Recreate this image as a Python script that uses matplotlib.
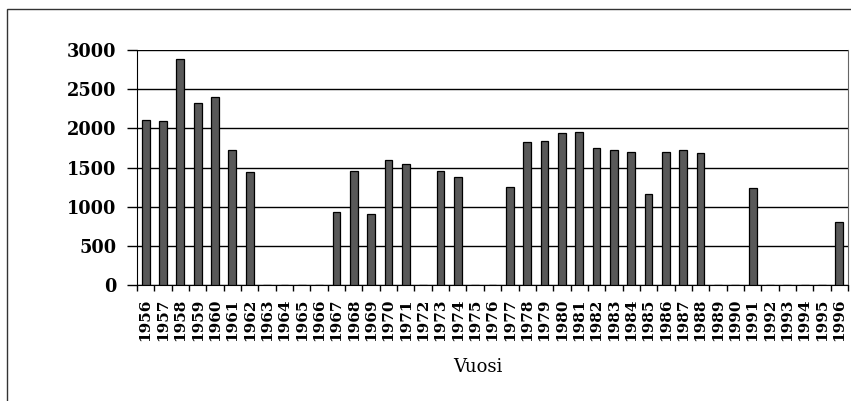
import matplotlib
matplotlib.use("Agg")
import matplotlib.pyplot as plt
from matplotlib.patches import Rectangle
import numpy as np

years = [str(y) for y in range(1956, 1997)]
values = {
    "1956": 2110, "1957": 2100, "1958": 2890, "1959": 2320, "1960": 2400,
    "1961": 1720, "1962": 1445, "1967": 930, "1968": 1450, "1969": 910,
    "1970": 1590, "1971": 1550, "1973": 1450, "1974": 1375, "1977": 1255,
    "1978": 1820, "1979": 1840, "1980": 1940, "1981": 1955, "1982": 1745,
    "1983": 1720, "1984": 1700, "1985": 1165, "1986": 1700, "1987": 1720,
    "1988": 1685, "1991": 1235, "1996": 800,
}
y_ticks = [0, 500, 1000, 1500, 2000, 2500, 3000]
x_label = "Vuosi"

W, H = 851, 401
fig = plt.figure(figsize=(W / 100, H / 100), dpi=100)

# outer frame
fig.patches.append(Rectangle((7 / W, -0.1), 1.2, (H - 9) / H + 0.1,
                             transform=fig.transFigure, fill=False,
                             edgecolor="#333333", linewidth=1.0))

ax = fig.add_axes([137 / W, 1 - 285 / H, (848 - 137) / W, (285 - 50) / H])
x = np.arange(len(years))
heights = [values.get(y, 0) for y in years]
ax.bar(x, heights, width=0.45, color="#595959", edgecolor="black",
       linewidth=0.9, zorder=3)

ax.set_xlim(-0.5, len(years) - 0.5)
ax.set_ylim(0, 3000)
ax.set_yticks(y_ticks)
ax.set_yticklabels([str(v) for v in y_ticks], family="DejaVu Serif",
                   fontweight="bold", fontsize=12.8)
ax.set_xticks(x)
ax.set_xticklabels(years, rotation=90, family="DejaVu Serif",
                   fontweight="bold", fontsize=11)
ax.set_xticks(np.arange(-0.5, len(years), 1), minor=True)
ax.tick_params(axis="x", which="major", length=0, pad=10)
ax.tick_params(axis="x", which="minor", length=4, width=1, direction="out",
               color="black")
ax.tick_params(axis="y", length=7, width=1, direction="out", pad=8,
               color="black")

for v in y_ticks:
    ax.axhline(v, color="black", linewidth=1.0, zorder=1)

for s in ["top"]:
    ax.spines[s].set_visible(False)
ax.spines["right"].set_color("#666666")
ax.spines["left"].set_color("black")
ax.spines["bottom"].set_color("black")

fig.text(478 / W, 1 - 367 / H, x_label, family="DejaVu Serif",
         fontsize=13, ha="center", va="center")

fig.savefig("out.png", dpi=100)
